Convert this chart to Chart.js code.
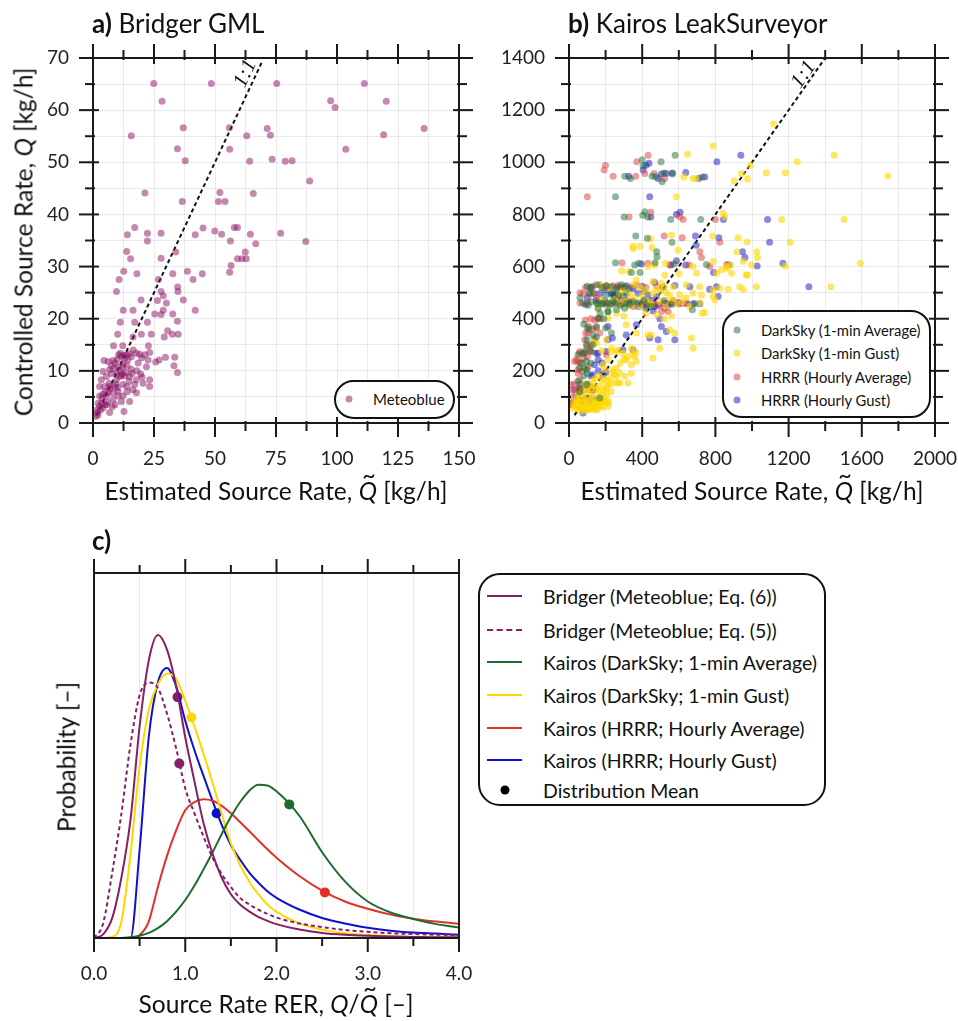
<!DOCTYPE html>
<html>
<head>
<meta charset="utf-8">
<script src="https://cdn.jsdelivr.net/npm/chart.js@4.4.1/dist/chart.umd.min.js"></script>
<style>
  body { margin: 0; background: #fff; font-family: Lato, "Open Sans", sans-serif; color: #111; }
  #wrap { position: relative; width: 958px; height: 1021px; overflow: hidden; }
  canvas { position: absolute; }
  .ttl { position: absolute; transform: translateY(-50%); font-size: 26px; white-space: nowrap; }
  .ax { position: absolute; transform: translate(-50%, -50%); font-size: 24.5px; white-space: nowrap; }
  .axv { transform: translate(-50%, -50%) rotate(-90deg); }
  .qt { position: relative; display: inline-block; font-style: italic; }
  .qt .tl { position: absolute; left: 0.16em; top: -0.68em; font-style: normal; font-size: 0.95em; }
  .lg { position: absolute; border: 2px solid #111; background: #fff; box-sizing: border-box; }
  .row { position: absolute; white-space: nowrap; transform: translateY(-50%); }
  .dot { position: absolute; border-radius: 50%; transform: translate(-50%, -50%); }
  .ln { position: absolute; height: 0; transform: translateY(-50%); }
</style>
</head>
<body>
<div id="wrap">
  <canvas id="chartA" width="480" height="510" style="left:0;top:0"></canvas>
  <canvas id="chartB" width="478" height="510" style="left:480px;top:0"></canvas>
  <canvas id="chartC" width="478" height="500" style="left:0;top:520px"></canvas>

  <div class="ttl" style="left:92px;top:23px"><b>a)</b> Bridger GML</div>
  <div class="ttl" style="left:568px;top:23px"><b>b)</b> Kairos LeakSurveyor</div>
  <div class="ttl" style="left:92px;top:540px"><b>c)</b></div>

  <div class="ax axv" style="left:23px;top:242px">Controlled Source Rate, <i>Q</i> [kg/h]</div>
  <div class="ax" style="left:276px;top:490px">Estimated Source Rate, <span class="qt">Q<span class="tl">~</span></span> [kg/h]</div>
  <div class="ax" style="left:752px;top:490px">Estimated Source Rate, <span class="qt">Q<span class="tl">~</span></span> [kg/h]</div>
  <div class="ax axv" style="left:66px;top:757px">Probability [–]</div>
  <div class="ax" style="left:276px;top:1003px">Source Rate RER, <i>Q</i>/<span class="qt">Q<span class="tl">~</span></span> [–]</div>

  <div class="lg" style="left:334px;top:380px;width:121px;height:39px;border-radius:20px;font-size:15px">
    <span class="dot" style="left:13px;top:17px;width:7px;height:7px;background:rgba(140,20,100,0.5)"></span>
    <span class="row" style="left:37px;top:17px">Meteoblue</span>
  </div>

  <div class="lg" style="left:722px;top:310px;width:209px;height:108px;border-radius:20px;font-size:14.8px">
    <span class="dot" style="left:13px;top:18px;width:7px;height:7px;background:rgba(30,110,50,0.5)"></span>
    <span class="row" style="left:37px;top:18px">DarkSky (1-min Average)</span>
    <span class="dot" style="left:13px;top:41px;width:7px;height:7px;background:rgba(255,215,0,0.6)"></span>
    <span class="row" style="left:37px;top:41px">DarkSky (1-min Gust)</span>
    <span class="dot" style="left:13px;top:65px;width:7px;height:7px;background:rgba(220,60,60,0.5)"></span>
    <span class="row" style="left:37px;top:65px">HRRR (Hourly Average)</span>
    <span class="dot" style="left:13px;top:88px;width:7px;height:7px;background:rgba(20,20,190,0.5)"></span>
    <span class="row" style="left:37px;top:88px">HRRR (Hourly Gust)</span>
  </div>

  <div class="lg" style="left:478px;top:573px;width:348px;height:233px;border-radius:22px;font-size:19.5px">
    <span class="ln" style="left:7px;top:21px;width:35px;border-top:2px solid #861f66"></span>
    <span class="row" style="left:63px;top:21px">Bridger (Meteoblue; Eq. (6))</span>
    <span class="ln" style="left:7px;top:55px;width:35px;border-top:2px dashed #861f66"></span>
    <span class="row" style="left:63px;top:55px">Bridger (Meteoblue; Eq. (5))</span>
    <span class="ln" style="left:7px;top:87px;width:35px;border-top:2px solid #1e6b2e"></span>
    <span class="row" style="left:63px;top:87px">Kairos (DarkSky; 1-min Average)</span>
    <span class="ln" style="left:7px;top:120px;width:35px;border-top:2px solid #ffd700"></span>
    <span class="row" style="left:63px;top:120px">Kairos (DarkSky; 1-min Gust)</span>
    <span class="ln" style="left:7px;top:153px;width:35px;border-top:2px solid #e0302a"></span>
    <span class="row" style="left:63px;top:153px">Kairos (HRRR; Hourly Average)</span>
    <span class="ln" style="left:7px;top:185px;width:35px;border-top:2px solid #1010c8"></span>
    <span class="row" style="left:63px;top:185px">Kairos (HRRR; Hourly Gust)</span>
    <span class="dot" style="left:25px;top:215px;width:9px;height:9px;background:#000"></span>
    <span class="row" style="left:63px;top:215px">Distribution Mean</span>
  </div>
</div>

<script>
// ---- panel a: Bridger GML, Meteoblue (estimated, controlled) kg/h
const bridgerMeteoblue = [
  [24.9,65.1],[48.5,65.1],[75.3,65.1],[111.2,65.1],[28.3,61.7],[97.4,61.8],[120.2,61.7],[99.2,60.5],
  [15.7,55.1],[55.9,56.6],[37.0,56.6],[71.4,56.5],[72.7,55.2],[63.0,55.1],[119.1,55.3],[135.7,56.5],
  [34.6,52.6],[56.0,52.5],[103.6,52.5],[37.8,50.3],[64.2,50.2],[73.4,50.6],[78.8,50.2],[81.6,50.3],
  [88.8,46.4],[21.3,44.1],[52.0,44.2],[65.7,44.0],[51.4,42.5],[54.1,42.5],[36.6,42.5],[17.1,37.5],
  [45.1,37.4],[57.9,37.5],[59.2,37.5],[49.9,36.8],[14.1,36.1],[22.3,36.4],[27.9,36.4],[41.9,36.1],
  [52.7,36.2],[64.5,36.2],[76.9,36.4],[22.3,34.9],[56.3,34.9],[66.7,34.4],[87.2,34.8],[13.8,32.9],
  [33.9,32.8],[62.4,32.8],[15.4,31.5],[27.9,31.6],[59.2,31.5],[61.0,31.5],[62.8,31.5],[56.6,30.2],
  [56.0,28.9],[12.6,29.1],[18.0,28.6],[32.7,28.6],[38.7,29.1],[44.8,28.6],[10.7,27.5],[26.8,27.5],
  [41.0,27.5],[34.7,26.1],[9.6,25.2],[27.9,25.2],[28.8,24.4],[34.8,25.2],[37.0,23.6],[19.7,23.6],
  [26.4,23.5],[30.1,23.0],[28.8,21.6],[16.4,21.6],[12.4,21.6],[25.3,20.9],[41.9,21.6],[32.7,20.9],
  [27.9,20.8],[22.3,19.3],[11.2,19.3],[34.6,19.5],[17.1,19.3],[30.6,17.7],[19.8,17.0],[23.9,17.0],
  [10.1,17.0],[32.5,17.0],[34.9,17.0],[29.2,16.5],[16.4,16.5],
  [8.4,14.8],[12.2,14.8],[15.0,13.3],[22.7,14.8],[8.2,12.0],[4.5,12.0],[6.2,11.8],[6.8,10.2],
  [13.7,13.1],[10.5,13.1],[17.8,13.4],[19.1,13.2],[21.2,13.1],[23.2,13.5],[22.6,12.1],[25.7,11.7],
  [27.1,12.1],[29.7,12.6],[33.5,12.6],[33.2,11.0],[34.6,9.7],[21.9,10.8],[23.2,8.3],[19.5,9.4],
  [20.1,8.8],[15.7,10.3],[13.4,9.7],[11.6,9.1],[9.6,8.3],[6.6,7.6],[4.8,7.0],[2.7,7.0],
  [17.1,7.4],[16.3,6.4],[13.9,7.0],[12.3,7.4],[10.3,6.1],[8.2,5.8],[5.5,5.2],[3.7,4.8],
  [12.3,5.2],[15.0,4.1],[11.6,4.1],[7.9,3.1],[4.1,2.9],[1.9,2.0],[1.1,1.3],[12.7,2.2],
  [4.8,3.5],[2.7,3.2],[6.8,2.0],[2.1,3.8],[6.8,7.0],[8.9,7.0],[5.5,8.9],[4.1,9.9],
  [7.5,9.5],[10.3,10.8],[12.3,11.3],[14.3,12.1],[15.7,12.7],[13.0,12.4],[11.2,13.4],[12.3,10.8],
  [15.0,8.9],[14.8,8.0],[10.9,8.9],[9.6,9.5],[3.4,8.3],[2.7,5.2],[6.2,5.8],[10.3,5.2],
  [17.8,5.8],[17.8,8.3],[20.5,7.6],[23.2,7.0],[8.2,4.5],[9.0,11.5],[10.0,12.2],[11.5,12.8],
  [12.8,13.0],[14.0,11.0],[13.0,9.0],[11.0,10.0],[9.5,7.5],[7.0,6.5],[5.0,6.0],[3.0,2.5],
  [2.0,1.5],[3.5,3.8],[6.0,4.0],[9.0,3.5],[14.0,6.0],[16.0,9.5],[18.5,11.5],[20.0,12.5],
  [7.5,11.0],[4.0,5.5],[1.5,2.5],[16.5,14.0],[18.0,10.0],[12.0,9.5],[10.0,6.8],[8.5,10.5],[5.5,3.5]
];
const oneToOneA = [1.5, 69.5];

// ---- panel b: Kairos LeakSurveyor (estimated, controlled) kg/h
const darkskyAvg = [
  [580,1027],[503,1002],[405,987],[400,1010],[305,946],[336,938],[454,946],[474,945],[520,959],[565,955],
  [728,944],[509,925],[254,868],[301,790],[403,797],[414,810],[430,790],[556,781],[720,781],[365,717],
  [428,709],[563,693],[479,657],[481,638],[254,615],[359,606],[381,613],[470,615],[575,610],[751,608],
  [341,577],[388,577],[150,530],[232,523],[287,530],[204,526],[131,498],[268,491],[159,459],[186,459],
  [213,459],[250,459],[314,459],[150,460],[182,457],[222,453],[350,466],[423,453],[674,434],[687,457],
  [159,440],[213,428],[259,434],[304,440],[159,402],[190,400],[213,427],[150,370],[200,364],[99,366],
  [232,345],[131,338],[98,319],[77,268],[98,294],[86,274],[49,262],[122,274],[95,236],[58,211],
  [98,204],[86,210],[49,160],[95,147],[58,121],[168,96],
  [100,525],[120,520],[180,520],[260,515],[300,522],[330,518],[75,460],[105,452],[120,465],[240,470],
  [280,452],[330,455],[380,460],[450,447],[520,470],[560,455],[200,490],[230,495],[300,487],[110,500],
  [60,480],[410,472],[60,150],[80,180],[100,190],[70,230],[120,230],[130,300],[150,330],[110,360],
  [80,380],[170,420]
];
const darkskyGust = [
  [1118,1147],[788,1062],[647,1031],[1449,1027],[1247,1002],[627,944],[678,938],[693,938],[903,928],[943,957],
  [975,936],[992,989],[1078,959],[1183,960],[1743,947],[587,868],[841,805],[851,792],[1163,781],[1504,781],
  [445,707],[560,721],[784,717],[923,711],[973,694],[1209,693],[350,678],[387,678],[350,669],[454,673],
  [596,663],[917,657],[1026,657],[1030,635],[469,606],[884,606],[997,606],[1180,602],[1592,613],[288,583],
  [523,568],[833,587],[862,593],[974,568],[432,600],[527,613],[678,600],[787,619],[860,600],[952,619],
  [328,581],[601,572],[696,574],[806,574],[970,568],[888,574],[368,549],[459,543],[505,536],[569,523],
  [642,530],[714,523],[787,511],[824,517],[870,513],[933,523],[1024,523],[951,511],[1431,523],[277,498],
  [332,491],[459,498],[532,500],[605,491],[678,498],[724,491],[787,485],[797,472],[222,457],[277,457],
  [359,457],[441,460],[496,466],[587,457],[714,460],[660,447],[729,421],[742,424],[213,402],[313,377],
  [368,345],[432,338],[450,338],[550,357],[578,345],[669,326],[678,287],[459,249],[496,287],[341,287],
  [364,271],[368,236],[150,306],[204,319],[232,287],[259,274],[295,268],[313,243],[350,262],[341,223],
  [186,223],[241,204],[277,191],[222,172],[323,153],[268,153],[141,313],[177,278],[232,274],[268,280],
  [213,243],[250,154],[277,154],[305,179],[259,179],[341,191],[359,255],[195,204],
  [22,57],[35,70],[49,76],[49,57],[60,96],[77,76],[77,57],[90,88],[104,70],[104,50],
  [118,60],[131,76],[131,52],[145,96],[159,76],[159,57],[172,64],[186,84],[186,60],[50,110],
  [70,120],[95,118],[120,130],[140,140],[160,120],[180,110],[200,100],[213,85],[60,45],[90,48],
  [40,90],[150,50],[175,95],[120,100],[110,145],[200,135],[230,120],[215,160],[180,160],[140,170],
  [250,185],[195,80],[215,75],[204,115],[191,83],[213,64],[140,57],
  [180,525],[230,515],[300,510],[350,530],[390,520],[420,510],[480,515],[520,525],[180,470],[250,475],
  [300,470],[330,450],[390,445],[420,470],[450,455],[530,452],[560,470],[620,465],[640,480],[550,490],
  [500,505],[400,490],[360,480],[160,440],[260,420],[300,410],[420,420],[480,415],[520,400],[560,410],
  [30,65],[45,85],[65,60],[80,95],[100,80],[115,88],[130,65],[150,80],[165,90],[170,70],
  [140,75],[110,55],[95,62],[55,80],[25,75],[40,60],[70,70],[85,62],[125,110],[150,130],
  [165,140],[190,125],[210,140],[225,150],[100,135],[85,150],[130,160],[160,180],[190,170],[235,195],
  [260,210],[280,230],[300,245],[320,255]
];
const hrrrAvg = [
  [432,1027],[370,1002],[199,989],[192,970],[241,946],[365,946],[414,957],[465,957],[523,938],[100,868],
  [328,790],[447,808],[605,791],[624,781],[800,781],[520,717],[618,711],[824,693],[715,657],[724,635],
  [290,615],[432,613],[551,606],[655,606],[769,600],[861,608],[77,497],[113,495],[141,497],[168,530],
  [205,526],[268,527],[369,530],[277,523],[341,521],[414,457],[277,457],[232,457],[597,457],[523,440],
  [405,466],[505,428],[614,457],[645,457],[541,428],[150,364],[168,345],[104,345],[140,323],[91,345],
  [95,300],[58,268],[86,268],[113,281],[40,243],[49,204],[104,217],[204,262],[86,319],[49,236],
  [31,236],[59,274],[118,274],[49,191],[13,127],[86,127],[59,166],[13,147],[31,70],[58,134],
  [113,128],[13,75],[159,400],[170,400],[120,400],
  [60,500],[90,520],[130,525],[190,520],[240,526],[300,520],[320,470],[100,460],[180,470],[200,455],
  [350,447],[450,460],[480,453],[530,460],[570,470],[270,485],[420,520],[480,525],[150,480],[60,460],
  [20,100],[40,110],[30,150],[50,130],[70,200],[60,230],[80,250],[100,255],[120,300],[130,360],
  [110,370],[90,395],[140,395]
];
const hrrrGust = [
  [939,1027],[808,1002],[437,996],[420,989],[405,970],[326,946],[505,955],[487,938],[565,959],[532,957],
  [638,961],[709,938],[742,944],[441,868],[447,790],[587,800],[607,808],[844,781],[1085,781],[691,717],
  [819,711],[1096,693],[695,682],[948,657],[961,635],[396,610],[556,606],[587,622],[638,606],[873,606],
  [1028,602],[1169,613],[790,577],[1311,523],[514,521],[578,527],[660,523],[769,513],[815,485],[806,523],
  [314,526],[468,539],[240,497],[168,497],[295,459],[350,457],[369,457],[468,457],[518,457],[560,459],
  [642,459],[678,457],[715,457],[232,498],[314,498],[377,498],[432,491],[478,485],[468,447],[496,400],
  [505,370],[368,377],[441,326],[487,319],[578,319],[532,351],[313,338],[237,326],[295,281],[150,268],
  [159,243],[140,223],[186,185],[131,128],[67,121],[95,96],[40,89],[31,70],[58,70],[113,57],
  [140,89],[77,38],[13,70],[213,370],[213,319],[159,268],[204,274],[350,280],[132,127],[31,127],
  [13,74],[122,96],[113,143],
  [120,520],[200,510],[260,520],[350,515],[400,525],[200,465],[250,462],[330,462],[400,455],[430,462],
  [450,470],[490,452],[540,455],[600,462],[380,447],[420,440],[460,430],[280,470],[150,470],[100,480],
  [90,455],[250,490],[410,505],[50,100],[70,85],[90,70],[110,80],[60,130],[100,150],[130,185],
  [160,200],[180,230],[120,180],[200,195]
];
const oneToOneB = [30, 1400];

// ---- panel c: RER distributions (relative probability)
const rerX = [0,0.1,0.2,0.3,0.4,0.5,0.6,0.7,0.8,0.9,1.0,1.1,1.2,1.3,1.4,1.5,1.6,1.7,1.8,1.9,2.0,2.25,2.5,2.75,3.0,3.25,3.5,3.75,4.0];
const bridgerEq6 = [0,0.01,0.055,0.165,0.324,0.58,0.76,0.83,0.79,0.69,0.55,0.43,0.315,0.23,0.165,0.12,0.092,0.073,0.058,0.047,0.038,0.023,0.014,0.009,0.006,0.004,0.003,0.002,0.002];
const bridgerEq5 = [0,0.04,0.18,0.34,0.53,0.665,0.70,0.685,0.615,0.52,0.41,0.342,0.278,0.22,0.175,0.14,0.11,0.092,0.078,0.066,0.056,0.04,0.03,0.022,0.017,0.013,0.011,0.009,0.008];
const kairosDsAvg = [0,0,0,0,0.002,0.006,0.014,0.027,0.046,0.072,0.104,0.143,0.188,0.235,0.285,0.332,0.372,0.403,0.42,0.418,0.402,0.335,0.235,0.155,0.1,0.07,0.052,0.038,0.029];
const kairosDsGust = [0,0,0.003,0.045,0.23,0.47,0.625,0.695,0.725,0.71,0.65,0.58,0.505,0.425,0.34,0.26,0.2,0.155,0.12,0.092,0.072,0.04,0.023,0.013,0.008,0.005,0.003,0.002,0.001];
const kairosHrrrAvg = [0,0,0,0,0,0.008,0.045,0.14,0.225,0.295,0.35,0.372,0.38,0.376,0.362,0.342,0.318,0.293,0.268,0.243,0.22,0.17,0.13,0.1,0.08,0.064,0.053,0.045,0.039];
const kairosHrrrGust = [0,0,0,0,0,0.242,0.55,0.70,0.74,0.69,0.595,0.515,0.444,0.375,0.31,0.255,0.215,0.18,0.152,0.128,0.11,0.078,0.055,0.04,0.028,0.02,0.015,0.012,0.009];
const meanLabels = ['Eq6', 'Eq5', 'DsAvg', 'DsGust', 'HrrrAvg', 'HrrrGust'];
const meanX = [0.915, 0.935, 2.14, 1.067, 2.53, 1.344];
const meanY = [0.66, 0.478, 0.366, 0.604, 0.125, 0.342];

Chart.defaults.font.family = 'Lato, "Open Sans", sans-serif';
Chart.defaults.color = '#222';

const isMajor = (v, m) => Math.abs(v / m - Math.round(v / m)) < 1e-6;

// spines plus ticks crossing the frame on all four sides
const frameTicks = {
  id: 'frameTicks',
  afterDraw(chart, args, o) {
    if (!o || !o.xMajor) return;
    const { ctx, chartArea: a, scales } = chart;
    ctx.save();
    ctx.strokeStyle = '#1a1a1a';
    ctx.lineWidth = 2;
    ctx.strokeRect(a.left, a.top, a.right - a.left, a.bottom - a.top);
    const seg = (x1, y1, x2, y2) => { ctx.beginPath(); ctx.moveTo(x1, y1); ctx.lineTo(x2, y2); ctx.stroke(); };
    scales.x.ticks.forEach(t => {
      const p = scales.x.getPixelForValue(t.value);
      const big = isMajor(t.value, o.xMajor);
      const out = big ? 14 : 8, inn = big ? o.inMajor : o.inMinor;
      seg(p, a.bottom - inn, p, a.bottom + out);
      seg(p, a.top + inn, p, a.top - out);
    });
    if (o.yMajor) {
      scales.y.ticks.forEach(t => {
        const p = scales.y.getPixelForValue(t.value);
        const big = isMajor(t.value, o.yMajor);
        const out = big ? 14 : 8, inn = big ? o.inMajor : o.inMinor;
        seg(a.left - out, p, a.left + inn, p);
        seg(a.right + out, p, a.right - inn, p);
      });
    }
    ctx.restore();
  }
};

// rotated "1:1" label beside the identity line
const diagLabel = {
  id: 'diagLabel',
  afterDatasetsDraw(chart, args, o) {
    if (!o || !o.at) return;
    const { ctx, scales } = chart;
    const x0 = scales.x.getPixelForValue(0), y0 = scales.y.getPixelForValue(0);
    const px = scales.x.getPixelForValue(o.at), py = scales.y.getPixelForValue(o.at);
    const ang = Math.atan2(py - y0, px - x0);
    ctx.save();
    ctx.translate(px + Math.sin(ang) * o.off, py - Math.cos(ang) * o.off);
    ctx.rotate(ang);
    ctx.font = 'italic 21px "Liberation Serif", "DejaVu Serif", serif';
    ctx.fillStyle = '#111';
    ctx.textAlign = 'center';
    ctx.textBaseline = 'middle';
    ctx.fillText('1:1', 0, 0);
    ctx.restore();
  }
};

Chart.register(frameTicks, diagLabel);

function axis(min, max, step, major, fmt, grid, fit) {
  return {
    type: 'linear', min, max,
    grid: { display: grid, color: 'rgba(0,0,0,0.08)', lineWidth: 1, drawTicks: false },
    border: { display: false },
    ticks: {
      stepSize: step, autoSkip: false, maxRotation: 0, padding: 24,
      font: { size: 19 }, color: '#222',
      callback: v => (isMajor(v, major) ? fmt(v) : '')
    },
    afterFit: s => {
      fit(s);
      s.paddingLeft = 0; s.paddingRight = 0; s.paddingTop = 0; s.paddingBottom = 0;
    }
  };
}

const toPts = arr => arr.map(p => ({ x: p[0], y: p[1] }));
const scatterSet = (label, arr, color) => ({
  type: 'scatter', label, data: toPts(arr),
  backgroundColor: color, borderWidth: 0, pointRadius: 3.5, pointHoverRadius: 3.5
});
const diagSet = ends => ({
  type: 'line', label: '1:1', data: ends.map(v => ({ x: v, y: v })),
  borderColor: '#111', borderWidth: 2, borderDash: [4, 3], pointRadius: 0, fill: false
});

const baseOpts = {
  responsive: false, animation: false, devicePixelRatio: 1,
  plugins: { legend: { display: false }, tooltip: { enabled: false } }
};

// panel a
new Chart(document.getElementById('chartA'), {
  data: { datasets: [scatterSet('Meteoblue', bridgerMeteoblue, 'rgba(140,20,100,0.5)'), diagSet(oneToOneA)] },
  options: {
    ...baseOpts,
    layout: { autoPadding: false, padding: { left: 0, top: 58, right: 21, bottom: 0 } },
    scales: {
      x: axis(0, 150, 12.5, 25, v => String(v), true, s => { s.height = 87; }),
      y: axis(0, 70, 5, 10, v => String(v), true, s => { s.width = 93; })
    },
    plugins: { ...baseOpts.plugins, frameTicks: { xMajor: 25, yMajor: 10, inMajor: 6, inMinor: 2 }, diagLabel: { at: 66.2, off: 10 } }
  }
});

// panel b
new Chart(document.getElementById('chartB'), {
  data: {
    datasets: [
      scatterSet('DarkSky (1-min Average)', darkskyAvg, 'rgba(30,110,50,0.5)'),
      scatterSet('DarkSky (1-min Gust)', darkskyGust, 'rgba(255,215,0,0.6)'),
      scatterSet('HRRR (Hourly Average)', hrrrAvg, 'rgba(220,60,60,0.5)'),
      scatterSet('HRRR (Hourly Gust)', hrrrGust, 'rgba(20,20,190,0.5)'),
      diagSet(oneToOneB)
    ]
  },
  options: {
    ...baseOpts,
    layout: { autoPadding: false, padding: { left: 0, top: 58, right: 23, bottom: 0 } },
    scales: {
      x: axis(0, 2000, 200, 400, v => String(v), true, s => { s.height = 87; }),
      y: axis(0, 1400, 100, 200, v => String(v), true, s => { s.width = 89; })
    },
    plugins: { ...baseOpts.plugins, frameTicks: { xMajor: 400, yMajor: 200, inMajor: 6, inMinor: 2 }, diagLabel: { at: 1319, off: 8 } }
  }
});

// panel c
const curve = (label, ys, color, dash) => ({
  type: 'line', label, data: rerX.map((x, i) => ({ x, y: ys[i] })),
  borderColor: color, borderWidth: 2, borderDash: dash || [], pointRadius: 0,
  cubicInterpolationMode: 'monotone', fill: false
});
const meanColors = ['#861f66', '#861f66', '#1e6b2e', '#ffd700', '#e0302a', '#1010c8'];

new Chart(document.getElementById('chartC'), {
  data: {
    datasets: [
      curve('Bridger (Meteoblue; Eq. (6))', bridgerEq6, '#861f66'),
      curve('Bridger (Meteoblue; Eq. (5))', bridgerEq5, '#861f66', [4, 3]),
      curve('Kairos (DarkSky; 1-min Average)', kairosDsAvg, '#1e6b2e'),
      curve('Kairos (DarkSky; 1-min Gust)', kairosDsGust, '#ffd700'),
      curve('Kairos (HRRR; Hourly Average)', kairosHrrrAvg, '#e0302a'),
      curve('Kairos (HRRR; Hourly Gust)', kairosHrrrGust, '#1010c8'),
      {
        type: 'scatter', label: 'Distribution Mean',
        data: meanX.map((x, i) => ({ x, y: meanY[i] })),
        backgroundColor: meanColors, borderWidth: 0, pointRadius: 5, pointHoverRadius: 5
      }
    ]
  },
  options: {
    ...baseOpts,
    layout: { autoPadding: false, padding: { left: 94, top: 53, right: 19, bottom: 0 } },
    scales: {
      x: axis(0, 4, 0.5, 1, v => v.toFixed(1), true, s => { s.height = 82; }),
      y: { type: 'linear', min: 0, max: 1, display: false }
    },
    plugins: { ...baseOpts.plugins, frameTicks: { xMajor: 1, yMajor: null, inMajor: 0, inMinor: 0 } }
  }
});
</script>
</body>
</html>
